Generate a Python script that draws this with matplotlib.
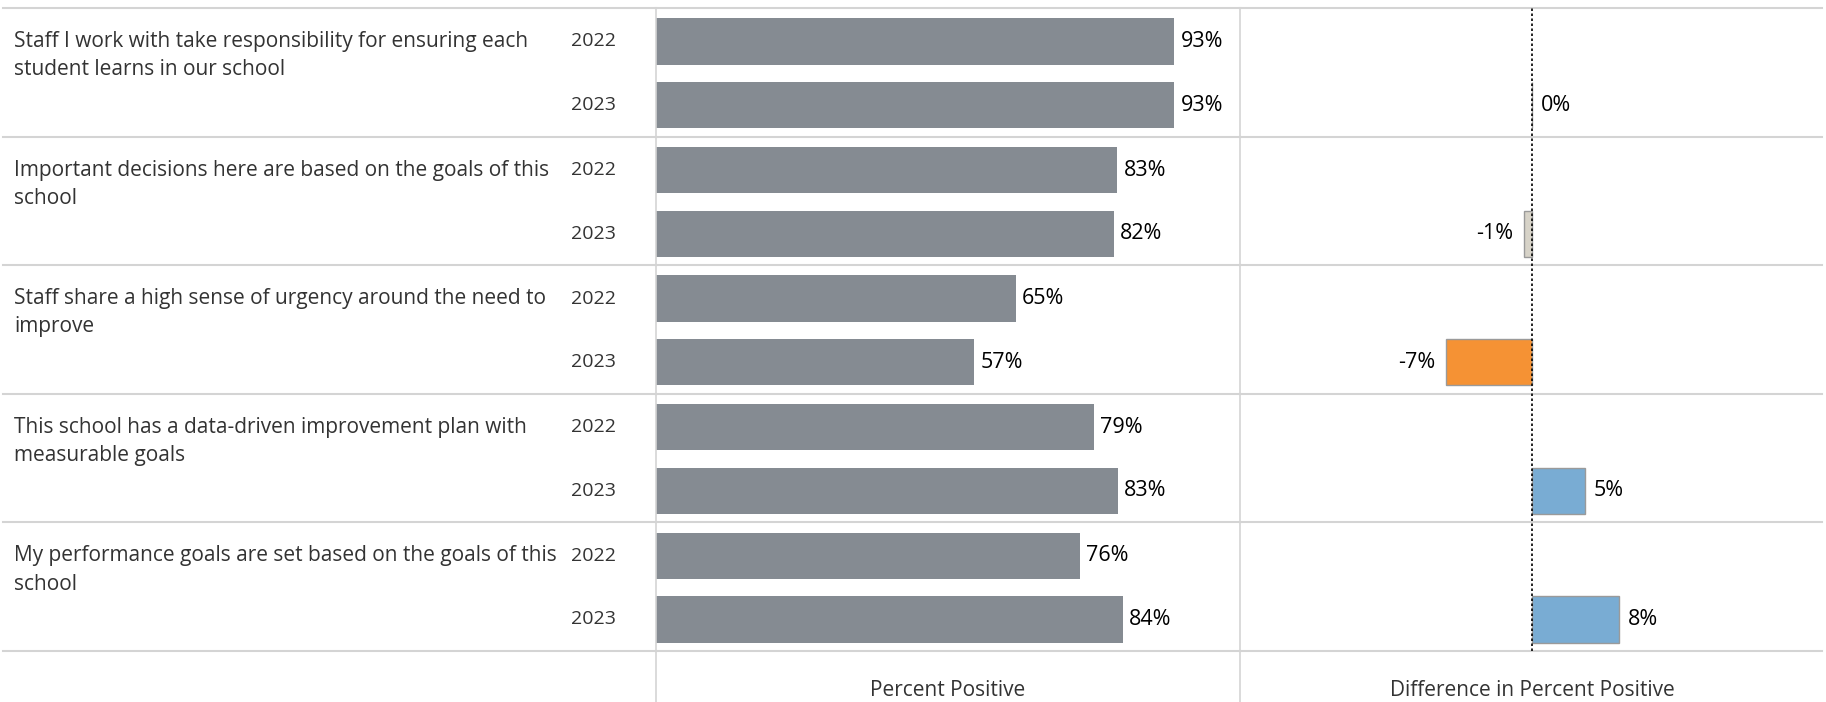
import matplotlib
matplotlib.use("Agg")
import matplotlib.pyplot as plt
from matplotlib.lines import Line2D

questions = [
    "Staff I work with take responsibility for ensuring each\nstudent learns in our school",
    "Important decisions here are based on the goals of this\nschool",
    "Staff share a high sense of urgency around the need to\nimprove",
    "This school has a data-driven improvement plan with\nmeasurable goals",
    "My performance goals are set based on the goals of this\nschool",
]
years = ["2022", "2023"]
pct_2022 = [93.0, 82.8, 64.6, 78.6, 76.1]
pct_2023 = [93.0, 82.1, 57.1, 82.9, 83.8]
diff = [0.0, -0.7, -7.45, 4.55, 7.5]
diff_colors = ["#d7d3c8", "#d7d3c8", "#f59234", "#79acd3", "#79acd3"]

plt.rcParams['font.family'] = ['Open Sans', 'DejaVu Sans']

W, H = 1826, 702
top, bot = 8, 651
grid = "#d4d4d4"
txt = "#333333"
fs = 15
fs_year = 14
fs_val = 15.5

fig = plt.figure(figsize=(W / 100, H / 100), dpi=100)


def box(x0, x1):
    return [x0 / W, 1 - bot / H, (x1 - x0) / W, (bot - top) / H]


ax_lab = fig.add_axes(box(3, 656))
ax_pct = fig.add_axes(box(656, 1240))
ax_dif = fig.add_axes(box(1240, 1822))

n = len(questions)
for ax in (ax_lab, ax_pct, ax_dif):
    ax.set_ylim(2 * n, 0)
    ax.axis('off')
    for k in range(n + 1):
        ax.axhline(2 * k, color=grid, lw=1.5, clip_on=False)

y22 = [2 * i + 0.52 for i in range(n)]
y23 = [2 * i + 1.51 for i in range(n)]

# left labels
ax_lab.set_xlim(3, 656)
for i, q in enumerate(questions):
    for j, line in enumerate(q.split("\n")):
        ax_lab.text(14, 2 * i + 0.52 + j * 0.44, line, ha='left', va='center',
                    fontsize=fs, color=txt)
    ax_lab.text(616, y22[i], years[0], ha='right', va='center', fontsize=fs_year, color=txt)
    ax_lab.text(616, y23[i], years[1], ha='right', va='center', fontsize=fs_year, color=txt)

# percent positive
ax_pct.set_xlim(0, 104.8)
ax_pct.barh(y22, pct_2022, height=0.72, color="#858b92")
ax_pct.barh(y23, pct_2023, height=0.72, color="#858b92")
for v, y in zip(pct_2022 + pct_2023, y22 + y23):
    ax_pct.annotate(f"{v:.0f}%", (v, y), xytext=(4.5, 0), textcoords='offset points',
                    ha='left', va='center', fontsize=fs_val, color='black')

# difference
ax_dif.set_xlim(-25.3, 25.1)
ax_dif.barh(y23, diff, height=0.72, color=diff_colors, edgecolor="#9a9a9a", linewidth=1.0)
ax_dif.axvline(0, color='black', lw=1.2, ls=(0, (1.5, 1.5)), zorder=5)
for v, y in zip(diff, y23):
    if v < 0:
        ax_dif.annotate(f"{v:.0f}%", (v, y), xytext=(-8, 0), textcoords='offset points',
                        ha='right', va='center', fontsize=fs_val, color='black')
    else:
        ax_dif.annotate(f"{v:.0f}%", (v, y), xytext=(6.5, 0), textcoords='offset points',
                        ha='left', va='center', fontsize=fs_val, color='black')

# pane dividers
for xp in (656, 1240):
    fig.add_artist(Line2D([xp / W, xp / W], [1 - top / H, 0], color=grid, lw=1.2))

fig.text(948 / W, 1 - 691 / H, "Percent Positive", ha='center', va='center',
         fontsize=fs, color=txt)
fig.text(1532 / W, 1 - 691 / H, "Difference in Percent Positive", ha='center',
         va='center', fontsize=fs, color=txt)

fig.savefig("out.png", dpi=100)
